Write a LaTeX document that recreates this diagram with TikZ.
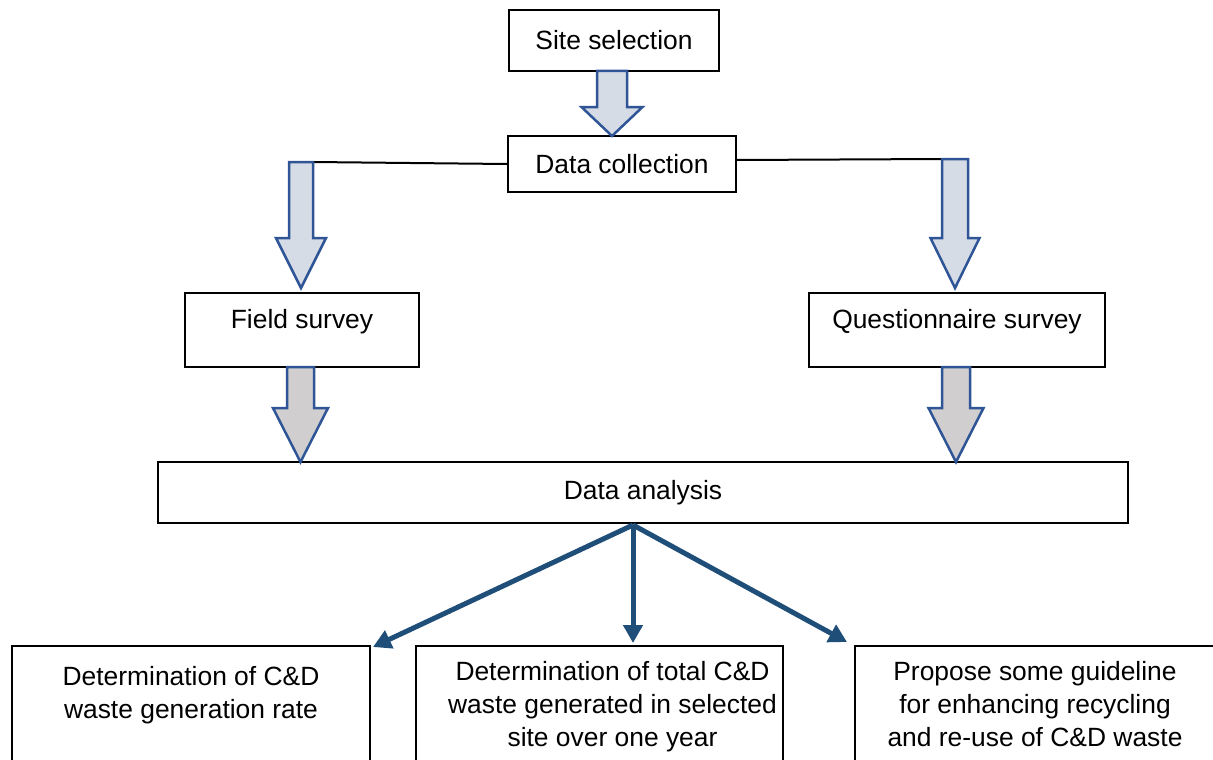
\documentclass[tikz,border=0pt]{standalone}
\usepackage{fontspec}
\setmainfont{Liberation Sans}
\usetikzlibrary{arrows.meta,calc}
\definecolor{arrowline}{HTML}{2F5597}
\definecolor{arrowfill}{HTML}{D6DCE5}
\definecolor{arrowgray}{HTML}{D0CECE}
\definecolor{flowblue}{HTML}{1F4E79}

\begin{document}
\begin{tikzpicture}[x=1pt,y=-1pt,
      font=\fontsize{26.4}{33}\selectfont,
      box/.style={draw,line width=2pt,inner sep=0pt},
      boxtext/.style={inner sep=0pt,align=center},
      blockarr/.style={draw=arrowline,line width=2.5pt,line join=miter},
      fork/.style={draw,line width=2pt},
      flow/.style={draw=flowblue,line width=5pt,-{Triangle[length=18pt,width=19pt]}}
     ]
    \clip (0,0) rectangle (1213,760);
    \node[box,minimum width=210,minimum height=61] (site) at (614,40.5) {Site selection};
    \node[box,minimum width=228,minimum height=56] (data) at (622,164) {Data collection};
    \node[box,minimum width=234,minimum height=74,
          label={[boxtext,yshift=8pt]center:Field survey}] (field) at (302,330) {};
    \node[box,minimum width=296,minimum height=74,
          label={[boxtext,yshift=8pt]center:Questionnaire survey}] (quest) at (957,330) {};
    \node[box,minimum width=970,minimum height=61] (analysis) at (643,492.5) {Data analysis};
    \node[box,anchor=north,minimum width=358,minimum height=140,
          label={[boxtext,anchor=north,yshift=-21pt]north:Determination of C\&D\\waste generation rate}]
          (rate) at (191,645) {};
    \node[box,anchor=north,minimum width=367,minimum height=140,
          label={[boxtext,anchor=north,xshift=13pt,yshift=-16pt]north:Determination of total C\&D\\waste generated in selected\\site over one year}]
          (total) at (599.5,645) {};
    \node[box,anchor=north,minimum width=367,minimum height=140,
          label={[boxtext,anchor=north,xshift=-3.5pt,yshift=-16pt]north:Propose some guideline\\for enhancing recycling\\and re-use of C\&D waste}]
          (guide) at (1038.5,645) {};

    \coordinate (lfork) at (313,162);
    \coordinate (rfork) at (942,159);
    \draw[fork] (data.west) -- (lfork);
    \draw[fork] ($(data.east)+(0,-4)$) -- (rfork);

    \foreach \cx/\ytop/\ybase/\ytip/\sw/\hw/\col in
        {612/71/107/136/15/30.5/arrowfill,
         301/162/238/288/12/25/arrowfill,
         955/159/238/288/13/24.5/arrowfill,
         300.5/367/408/462/13.5/27.5/arrowgray,
         956/367/408/462/14/27.5/arrowgray}
      \draw[blockarr,fill=\col] (\cx-\sw,\ytop) -- (\cx+\sw,\ytop) -- (\cx+\sw,\ybase)
          -- (\cx+\hw,\ybase) -- (\cx,\ytip) -- (\cx-\hw,\ybase) -- (\cx-\sw,\ybase) -- cycle;

    \coordinate (split) at (633,525);
    \coordinate (ratetip) at (373,647);
    \coordinate (totaltip) at (633,643);
    \coordinate (guidetip) at (847,642);
    \draw[flow] (split) -- (ratetip);
    \draw[flow] (split) -- (totaltip);
    \draw[flow] (split) -- (guidetip);
\end{tikzpicture}
\end{document}
